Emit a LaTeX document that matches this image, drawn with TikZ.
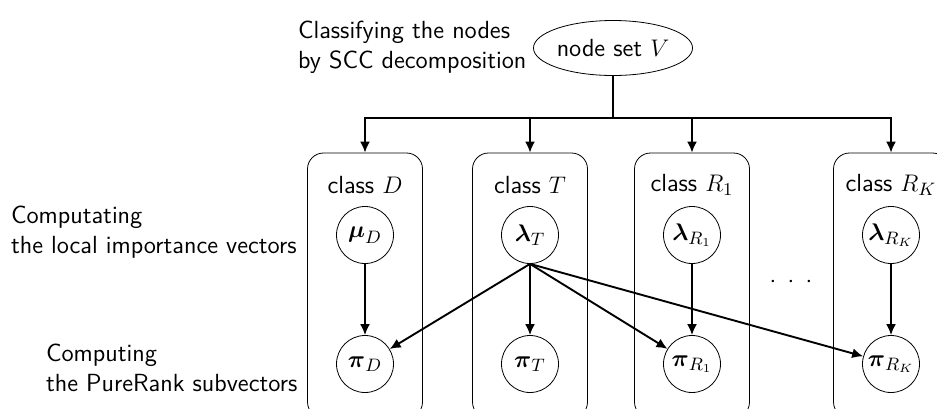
\documentclass[tikz,border=0pt]{standalone}
\usepackage{amsmath}
\usetikzlibrary{arrows.meta,shapes.geometric}

\begin{document}
\begin{tikzpicture}[x=0.5pt, y=-0.5pt, font=\fontsize{12.4}{15}\selectfont\sffamily,
        var/.style={draw, circle, minimum size=28.5pt, inner sep=0pt},
        classbox/.style={draw, rounded corners=8pt, minimum width=57.5pt, minimum height=132.5pt},
        arr/.style={line width=0.95pt, -{Latex[length=5.5pt, width=5pt]}}]
            \useasboundingbox (0,0) rectangle (937,408);

            \node[draw, ellipse, minimum width=74pt, minimum height=27.5pt, inner sep=0pt] (set) at (613,48) {node set $V$};
            \node[anchor=west, align=left] (sccnote) at (291,47) {Classifying the nodes\\by SCC decomposition};
            \coordinate (split) at (613,118);
            \draw[line width=0.95pt] (set) -- (split);

            \foreach \name/\x/\cls/\up/\low in {D/365/D/\boldsymbol{\mu}_D/\boldsymbol{\pi}_D,
                    T/530/T/\boldsymbol{\lambda}_T/\boldsymbol{\pi}_T,
                    R1/692/R_1/\boldsymbol{\lambda}_{R_1}/\boldsymbol{\pi}_{R_1},
                    RK/891/R_K/\boldsymbol{\lambda}_{R_K}/\boldsymbol{\pi}_{R_K}} {
                \node[classbox] (box\name) at (\x,285.5) {};
                \node (cls\name) at (\x,185) {class $\cls$};
                \node[var] (up\name) at (\x,235) {$\up$};
                \node[var] (low\name) at (\x,364) {$\low$};
                \draw[arr] (up\name) -- (low\name);
                \draw[arr] (split) -| (box\name.north);
            }

            \foreach \tgt in {D, R1, RK}
                \draw[arr] (upT.south) -- (low\tgt);

            \node (dots) at (791,282) {$\cdot$\hspace{5.7pt}$\cdot$\hspace{5.7pt}$\cdot$};

            \node[anchor=west, align=left] (localnote) at (4,232) {Computating\\the local importance vectors};
            \node[anchor=west, align=left] (purenote) at (39,368) {Computing\\the PureRank subvectors};
        \end{tikzpicture}
\end{document}
